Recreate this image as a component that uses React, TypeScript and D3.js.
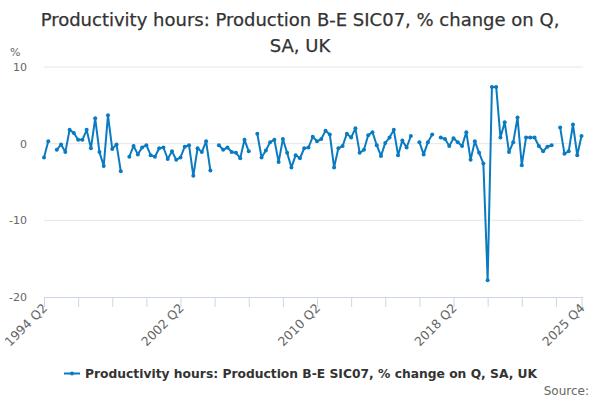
import React from 'react';
import * as d3 from 'd3';

// Categories: quarters 1994 Q2 .. 2025 Q4
const quarters: string[] = (() => {
  const out: string[] = [];
  let y = 1994, q = 2;
  while (y < 2025 || (y === 2025 && q <= 4)) {
    out.push(`${y} Q${q}`);
    q++;
    if (q > 4) { q = 1; y++; }
  }
  return out;
})();

// Series values (% change on quarter), null = no data
const values: (number | null)[] = [
  -1.8, 0.3, null, -0.8, -0.1, -1.1, 1.8, 1.4, 0.5, 0.5,
  1.8, -0.6, 3.3, -1.1, -2.9, 3.7, -0.7, -0.1, -3.6, null,
  -1.7, -0.3, -1.4, -0.5, -0.2, -1.5, -1.7, -0.6, -0.5, -2.0,
  -1.0, -2.1, -1.8, -0.4, -0.2, -4.2, -0.6, -1.1, 0.3, -3.5,
  null, -0.2, -0.8, -0.5, -1.1, -1.2, -1.9, 0.5, -1.0, null,
  1.3, -1.8, -0.9, 0.2, 0.5, -2.4, 0.6, -1.2, -3.1, -1.5,
  -1.9, -0.6, -0.5, 0.9, 0.3, 0.6, 1.7, 1.2, -3.1, -0.6,
  -0.3, 1.3, 0.8, 2.0, -1.2, -0.8, 1.1, 1.5, -0.2, -1.6,
  0.1, 0.8, 1.8, -1.5, 0.4, -0.5, 1.0, null, 0.2, -1.4,
  0.2, 1.2, null, 0.8, 0.6, -0.3, 0.7, 0.2, -0.3, 1.5,
  -2.1, 0.3, -1.2, -2.6, -17.8, 7.4, 7.4, 0.8, 2.8, -1.1,
  0.2, 3.4, -2.8, 0.8, 0.8, 0.8, -0.3, -1.0, -0.4, -0.2,
  null, 2.1, -1.3, -1.0, 2.5, -1.5, 1.0,
];

const yTicks = [10, 0, -10, -20];
const xLabels = ['1994 Q2', '2002 Q2', '2010 Q2', '2018 Q2', '2025 Q4'];
const titleLines = ['Productivity hours: Production B-E SIC07, % change on Q,', 'SA, UK'];
const seriesName = 'Productivity hours: Production B-E SIC07, % change on Q, SA, UK';

const W = 600, H = 400;
const FONT = '"DejaVu Sans", Verdana, sans-serif';
const COLOR = '#0a7bc1';

export default function App() {
  const left = 44, right = 581.5, top = 67, bottom = 297;
  const x = d3.scalePoint<string>().domain(quarters).range([left, right]).padding(0);
  const y = d3.scaleLinear().domain([-20, 10]).range([bottom, top]);

  const pts = values.map((v, i) => ({ q: quarters[i], v }));
  const line = d3
    .line<{ q: string; v: number | null }>()
    .defined((d) => d.v !== null)
    .x((d) => x(d.q) as number)
    .y((d) => y(d.v as number));

  const tickIdx = quarters.map((_, i) => i).filter((i) => i % 8 === 0 || i === quarters.length - 1);

  return (
    <svg
      width={W}
      height={H}
      style={{ position: 'absolute', left: 0, top: 0, background: '#fff' }}
      fontFamily={FONT}
    >
      <rect width={W} height={H} fill="#fff" />
      {titleLines.map((t, i) => (
        <text key={i} x={300} y={26 + i * 26} textAnchor="middle" fontSize={18} fill="#333" stroke="#333" strokeWidth={0.25}>
          {t}
        </text>
      ))}
      <text x={10} y={56} fontSize={11} fill="#666">%</text>
      {yTicks.map((t) => (
        <g key={t}>
          {t !== -20 && (
            <line x1={left} x2={583} y1={y(t)} y2={y(t)} stroke="#e6e6e6" strokeWidth={1} />
          )}
          <text x={27} y={y(t) + 4} textAnchor="end" fontSize={11} fill="#666">
            {t}
          </text>
        </g>
      ))}
      <line x1={left} x2={583} y1={bottom + 0.5} y2={bottom + 0.5} stroke="#ccd6eb" strokeWidth={1} />
      {tickIdx.map((i) => (
        <line
          key={i}
          x1={(x(quarters[i]) as number) + 0.5}
          x2={(x(quarters[i]) as number) + 0.5}
          y1={bottom}
          y2={bottom + 10}
          stroke="#ccd6eb"
          strokeWidth={1}
        />
      ))}
      {xLabels.map((lab) => {
        const px = x(lab) as number;
        return (
          <text
            key={lab}
            transform={`translate(${px + 4},${bottom + 12}) rotate(-45)`}
            textAnchor="end"
            fontSize={12.5}
            fill="#666"
          >
            {lab}
          </text>
        );
      })}
      <path d={line(pts) || ''} fill="none" stroke={COLOR} strokeWidth={2} strokeLinejoin="round" />
      {pts.filter((d) => d.v !== null).map((d) => (
        <circle key={d.q} cx={x(d.q) as number} cy={y(d.v as number)} r={2} fill={COLOR} />
      ))}
      <g>
        <line x1={64} x2={80} y1={373.5} y2={373.5} stroke={COLOR} strokeWidth={2} />
        <circle cx={72} cy={373.5} r={2} fill={COLOR} />
        <text x={85} y={378} fontSize={12.3} fontWeight="bold" fill="#333">
          {seriesName}
        </text>
      </g>
      <text x={589} y={395} textAnchor="end" fontSize={12} fill="#666">Source:</text>
    </svg>
  );
}
